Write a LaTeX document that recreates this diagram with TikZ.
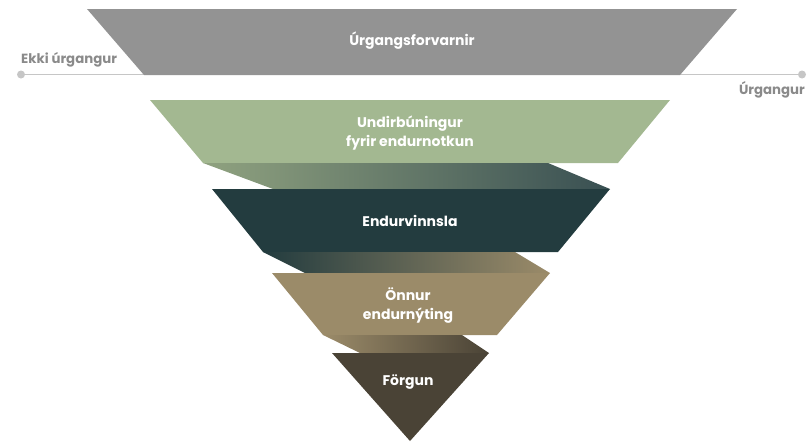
\documentclass[tikz,border=0pt]{standalone}
\usepackage{fontspec}
\setmainfont{Poppins}
\definecolor{prevgray}{HTML}{939393}
\definecolor{reusegreen}{HTML}{A3B891}
\definecolor{recycdark}{HTML}{233C3F}
\definecolor{recovtan}{HTML}{9B8B69}
\definecolor{dispbrown}{HTML}{4A4336}
\definecolor{axisgray}{HTML}{C6C6C6}
\definecolor{sidegray}{HTML}{8A8A8A}

\begin{document}
\begin{tikzpicture}[x=1pt,y=-1pt,
  level/.style={text=white,font=\bfseries\fontsize{14}{19}\selectfont,align=center},
  side/.style={text=sidegray,font=\bfseries\fontsize{13.3}{15}\selectfont}]
  \useasboundingbox (0,0) rectangle (808,442);

  % line from no waste to waste
  \coordinate (ekki) at (21,74.5);
  \coordinate (urg) at (802,74.5);
  \draw[axisgray,line width=1.5pt] (ekki) -- (urg);
  \fill[axisgray] (ekki) circle (4pt) (urg) circle (4pt);
  \node[side,anchor=west,inner sep=0pt] (ekkilbl) at (21,60) {Ekki úrgangur};
  \node[side,anchor=east,inner sep=0pt] (urglbl) at (805,90) {Úrgangur};

  % funnel levels
  \fill[prevgray] (87,9) -- (737,9) -- (680,75) -- (144,75) -- cycle;
  \fill[reusegreen] (150,100) -- (670,100) -- (618,163) -- (203,163) -- cycle;
  \shade[left color=reusegreen!88!black,right color=recycdark!90!white]
    (203,163) -- (548,163) -- (610,189) -- (273,189) -- cycle;
  \fill[recycdark] (212,189) -- (610,189) -- (558,252) -- (263,252) -- cycle;
  \shade[left color=recycdark,right color=recovtan]
    (263,252) -- (515,252) -- (550,273) -- (305,273) -- cycle;
  \fill[recovtan] (272,273) -- (550,273) -- (497,335) -- (323,335) -- cycle;
  \shade[left color=recovtan,right color=dispbrown]
    (323,335) -- (462,335) -- (489,353) -- (360,353) -- cycle;
  \fill[dispbrown] (332,353) -- (489,353) -- (410,441) -- cycle;

  % labels
  \node[level] (prev) at (412,41) {Úrgangsforvarnir};
  \node[level] (reuse) at (410,133) {Undirbúningur\\fyrir endurnotkun};
  \node[level] (recyc) at (410,221) {Endurvinnsla};
  \node[level] (recov) at (408,306) {Önnur\\endurnýting};
  \node[level] (disp) at (408,382) {Förgun};
\end{tikzpicture}
\end{document}
